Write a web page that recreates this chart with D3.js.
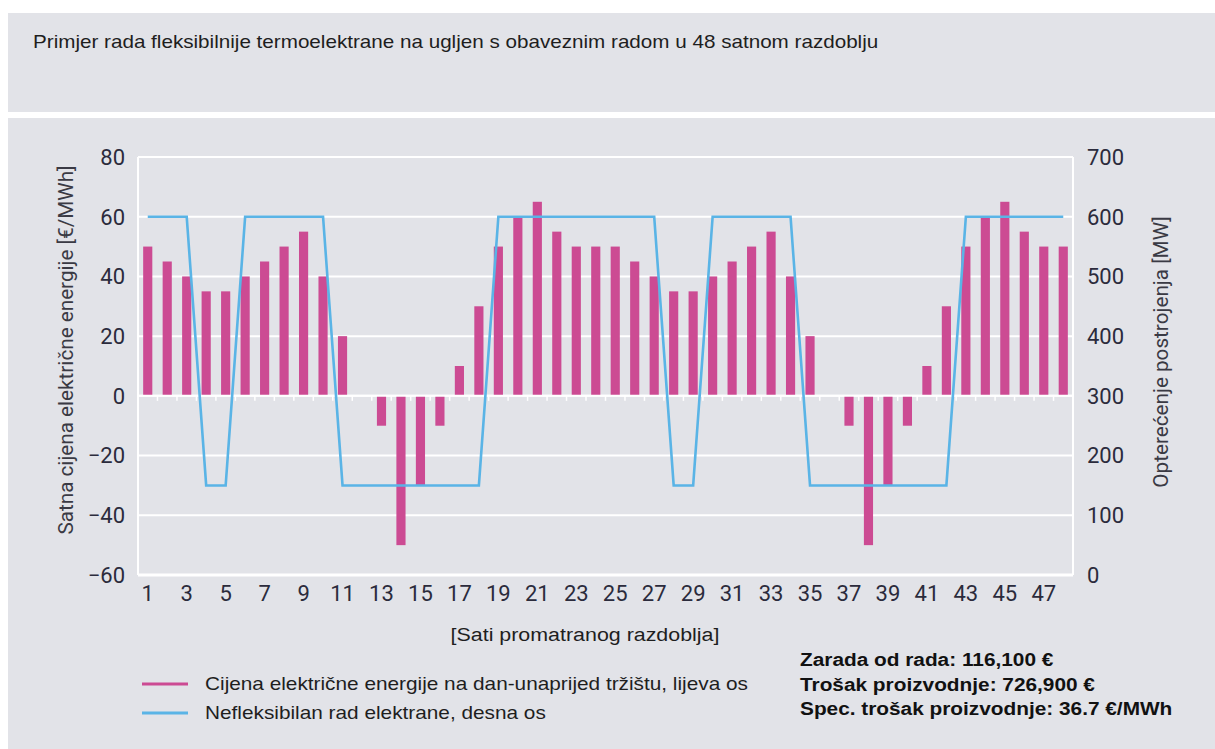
<!DOCTYPE html>
<html>
<head>
<meta charset="utf-8">
<script src="https://cdn.jsdelivr.net/npm/d3@7"></script>
<style>
  html, body { margin: 0; padding: 0; background: #fff; }
  svg { display: block; }
</style>
</head>
<body>
<svg id="chart" width="1215" height="749"></svg>
<script>
// ---- data ----
const hours = d3.range(1, 49);
const priceValues = [50, 45, 40, 35, 35, 40, 45, 50, 55, 40, 20, 0, -10, -50, -30, -10, 10, 30, 50, 60, 65, 55, 50, 50,
                     50, 45, 40, 35, 35, 40, 45, 50, 55, 40, 20, 0, -10, -50, -30, -10, 10, 30, 50, 60, 65, 55, 50, 50];
const loadValues = [600, 600, 600, 150, 150, 600, 600, 600, 600, 600, 150, 150, 150, 150, 150, 150, 150, 150,
                    600, 600, 600, 600, 600, 600, 600, 600, 600, 150, 150, 600, 600, 600, 600, 600,
                    150, 150, 150, 150, 150, 150, 150, 150, 600, 600, 600, 600, 600, 600];
const leftTicks = [-60, -40, -20, 0, 20, 40, 60, 80];
const rightTicks = [0, 100, 200, 300, 400, 500, 600, 700];
const xTickLabels = hours.filter(h => h % 2 === 1);
const titleText = "Primjer rada fleksibilnije termoelektrane na ugljen s obaveznim radom u 48 satnom razdoblju";
const leftAxisTitle = "Satna cijena električne energije [€/MWh]";
const rightAxisTitle = "Opterećenje postrojenja [MW]";
const xAxisTitle = "[Sati promatranog razdoblja]";
const legendLabels = ["Cijena električne energije na dan-unaprijed tržištu, lijeva os", "Nefleksibilan rad elektrane, desna os"];
const summaryLines = ["Zarada od rada: 116,100 €", "Trošak proizvodnje: 726,900 €", "Spec. trošak proizvodnje: 36.7 €/MWh"];

// ---- styles ----
const BG = "#e2e3e8";
const PINK = "#cc4b93";
const BLUE = "#5ab4e6";
const TICKFONT = "Roboto, 'DejaVu Sans', sans-serif";
const TEXTFONT = "'Liberation Sans', Arial, sans-serif";

const svg = d3.select("#chart");
svg.append("rect").attr("x", 0).attr("y", 0).attr("width", 1215).attr("height", 749).attr("fill", "#fff");
svg.append("rect").attr("x", 8).attr("y", 13).attr("width", 1207).attr("height", 99).attr("fill", BG);
svg.append("rect").attr("x", 8).attr("y", 118).attr("width", 1207).attr("height", 631).attr("fill", BG);

// horizontally stretched text helper (the source artwork is wide-set)
function wideText(parent, x, y, sx, txt, size, opts = {}) {
  const t = parent.append("text")
    .attr("transform", `translate(${x},${y}) scale(${sx},1)`)
    .attr("font-family", TEXTFONT).attr("font-size", size)
    .attr("fill", opts.fill || "#1e1e1e")
    .attr("text-anchor", opts.anchor || "start")
    .attr("dy", opts.dy || null)
    .text(txt);
  if (opts.weight) t.attr("font-weight", opts.weight);
  return t;
}

wideText(svg, 33, 48, 1.18, titleText, 17.5);

// ---- plot area ----
const L = 138, R = 1073, T = 157, B = 575;
const x = d3.scaleBand().domain(hours).range([L, R]).paddingInner(0.53).paddingOuter(0.265);
const yL = d3.scaleLinear().domain([-60, 80]).range([B, T]);
const yR = d3.scaleLinear().domain([0, 700]).range([B, T]);

const g = svg.append("g");

// gridlines
g.selectAll("line.grid").data(leftTicks).join("line")
  .attr("x1", L).attr("x2", R)
  .attr("y1", d => yL(d)).attr("y2", d => yL(d))
  .attr("stroke", "#fff").attr("stroke-width", d => d === -60 ? 3 : 2);
// side borders
[L, R].forEach(xx => {
  g.append("line").attr("x1", xx).attr("x2", xx).attr("y1", T).attr("y2", B)
    .attr("stroke", "#fff").attr("stroke-width", 2);
});

// bars
g.selectAll("rect.bar").data(hours).join("rect")
  .attr("x", d => x(d))
  .attr("width", x.bandwidth())
  .attr("y", (d, i) => yL(Math.max(0, priceValues[i])))
  .attr("height", (d, i) => Math.abs(yL(priceValues[i]) - yL(0)))
  .attr("fill", PINK);

// zero line and ticks
g.append("line").attr("x1", L).attr("x2", R).attr("y1", yL(0)).attr("y2", yL(0))
  .attr("stroke", "#fff").attr("stroke-width", 2);
const step = x.step();
g.selectAll("line.tick").data(d3.range(1, 49)).join("line")
  .attr("x1", k => L + step * k).attr("x2", k => L + step * k)
  .attr("y1", yL(0)).attr("y2", yL(0) + 5)
  .attr("stroke", "#fff").attr("stroke-width", 1.5);

// line
const line = d3.line()
  .x((d, i) => x(hours[i]) + x.bandwidth() / 2)
  .y(d => yR(d));
g.append("path").datum(loadValues).attr("d", line)
  .attr("fill", "none").attr("stroke", BLUE).attr("stroke-width", 2.6)
  .attr("stroke-linejoin", "miter");

// tick labels
const tickColor = "#2b2b3c";
g.selectAll("text.lt").data(leftTicks).join("text")
  .attr("x", 125).attr("y", d => yL(d)).attr("dy", "0.36em")
  .attr("text-anchor", "end")
  .attr("font-family", TICKFONT).attr("font-size", 22).attr("fill", tickColor)
  .text(d => d < 0 ? "\u2212" + Math.abs(d) : d);
g.selectAll("text.rt").data(rightTicks).join("text")
  .attr("x", 1087).attr("y", d => yR(d)).attr("dy", "0.36em")
  .attr("text-anchor", "start")
  .attr("font-family", TICKFONT).attr("font-size", 22).attr("fill", tickColor)
  .text(d => d);
g.selectAll("text.xt").data(xTickLabels).join("text")
  .attr("x", d => x(d) + x.bandwidth() / 2).attr("y", 593).attr("dy", "0.36em")
  .attr("text-anchor", "middle")
  .attr("font-family", TICKFONT).attr("font-size", 22).attr("fill", tickColor)
  .text(d => d);

// axis titles
svg.append("text").attr("transform", "translate(73,350) rotate(-90)")
  .attr("text-anchor", "middle")
  .attr("font-family", TICKFONT).attr("font-size", 20.7).attr("fill", "#3a3a44")
  .text(leftAxisTitle);
svg.append("text").attr("transform", "translate(1168,352) rotate(-90)")
  .attr("text-anchor", "middle")
  .attr("font-family", TICKFONT).attr("font-size", 20.7).attr("fill", "#3a3a44")
  .text(rightAxisTitle);
wideText(svg, 585, 641, 1.19, xAxisTitle, 18, { anchor: "middle" });

// legend
const legendColors = [PINK, BLUE];
const legendY = [684, 713];
legendLabels.forEach((lab, i) => {
  svg.append("line").attr("x1", 142).attr("x2", 188).attr("y1", legendY[i]).attr("y2", legendY[i])
    .attr("stroke", legendColors[i]).attr("stroke-width", 3);
  wideText(svg, 205, legendY[i], 1.155, lab, 18, { dy: "0.35em" });
});

// summary
const sumY = [660, 685, 709];
summaryLines.forEach((s, i) => {
  wideText(svg, 800, sumY[i], 1.19, s, 17.5, { dy: "0.35em", weight: "bold", fill: "#111" });
});
</script>
</body>
</html>
